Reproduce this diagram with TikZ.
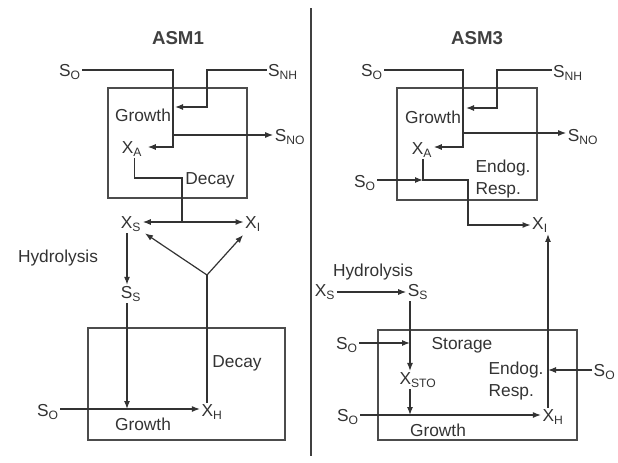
\documentclass[tikz,border=0pt]{standalone}
\usepackage{fontspec}
\setmainfont{Liberation Sans}
\usetikzlibrary{arrows.meta}

\begin{document}
\begin{tikzpicture}[x=0.75pt,y=-0.75pt,
	flow/.style={draw=black!80, line width=0.9pt},
	arr/.style={flow, -{Latex[length=6pt,width=4.5pt]}},
	dblarr/.style={flow, {Latex[length=6pt,width=4.5pt]}-{Latex[length=6pt,width=4.5pt]}},
	reactor/.style={draw=black!70, line width=1.3pt},
	lbl/.style={font=\fontsize{13}{16}\selectfont, text=black!80, inner sep=1pt},
	proc/.style={lbl},
	title/.style={font=\fontsize{14}{16}\selectfont\bfseries, text=black!75},
	]
	\useasboundingbox (0,0) rectangle (618,462);
	
	% ASM1
	\node[title] (asm1) at (178,38) {ASM1};
	\draw[reactor] (108,88) rectangle (247,198);
	\draw[reactor] (88,328) rectangle (285,440);
	
	\node[lbl] (SO1) at (70,72) {S\textsubscript{O}};
	\node[lbl] (SNH1) at (283,72) {S\textsubscript{NH}};
	\node[lbl] (SNO1) at (290,137) {S\textsubscript{NO}};
	\node[lbl] (XA1) at (132,149) {X\textsubscript{A}};
	\node[lbl] (XS1) at (131,224) {X\textsubscript{S}};
	\node[lbl] (XI1) at (253,224) {X\textsubscript{I}};
	\node[lbl] (SS1) at (131,294) {S\textsubscript{S}};
	\node[lbl] (SO2) at (48,412) {S\textsubscript{O}};
	\node[lbl] (XH1) at (212,412) {X\textsubscript{H}};
	
	\node[proc] (grow1) at (143,115) {Growth};
	\node[proc] (decay1) at (210,180) {Decay};
	\node[proc] (hydro1) at (58,258) {Hydrolysis};
	\node[proc] (decay2) at (237,363) {Decay};
	\node[proc] (grow2) at (143,424) {Growth};
	
	\coordinate (a1) at (173,70);
	\coordinate (a2) at (173,147);
	\draw[arr] (SO1.east |- a1) -- (a1) -- (a2) -- ([xshift=3pt]XA1.east |- a2);
	\coordinate (b1) at (207,70);
	\coordinate (b2) at (207,107);
	\coordinate (b3) at (175,107);
	\draw[arr] (SNH1.west |- b1) -- (b1) -- (b2) -- (b3);
	\coordinate (n1) at (173,135);
	\draw[arr] (n1) -- (SNO1.west |- n1);
	
	\coordinate (d1) at (182,178);
	\coordinate (d2) at (182,222);
	\draw[flow] ([xshift=2pt]XA1.south) |- (d1) -- (d2);
	\draw[dblarr] (XS1.east |- d2) -- (XI1.west |- d2);
	
	\draw[arr] ([xshift=-3pt]XS1.south) -- ([xshift=-3pt]SS1.north);
	\coordinate (v1) at (207,275);
	\draw[arr, shorten >=2pt] (v1) -- (XS1);
	\draw[arr, shorten >=2pt] (v1) -- (XI1);
	\draw[flow] (XH1.north -| v1) -- (v1);
	
	\coordinate (g1) at (127,409);
	\draw[arr] ([xshift=-3pt]SS1.south) -- (g1);
	\draw[arr] (SO2.east |- g1) -- (XH1.west |- g1);
	
	% divider
	\draw[line width=1.5pt, black!75] (311,8) -- (311,456);
	
	% ASM3
	\node[title] (asm3) at (477,38) {ASM3};
	\draw[reactor] (397,88) rectangle (537,200);
	\draw[reactor] (378,330) rectangle (577,440);
	
	\node[lbl] (SO3) at (372,72) {S\textsubscript{O}};
	\node[lbl] (SNH3) at (568,73) {S\textsubscript{NH}};
	\node[lbl] (SNO3) at (583,137) {S\textsubscript{NO}};
	\node[lbl] (XA3) at (422,150) {X\textsubscript{A}};
	\node[lbl] (SO4) at (365,183) {S\textsubscript{O}};
	\node[lbl] (XI3) at (540,225) {X\textsubscript{I}};
	\node[lbl] (XS3) at (325,292) {X\textsubscript{S}};
	\node[lbl] (SS3) at (418,292) {S\textsubscript{S}};
	\node[lbl] (SO5) at (347,345) {S\textsubscript{O}};
	\node[lbl] (XSTO) at (418,380) {X\textsubscript{STO}};
	\node[lbl] (SO6) at (348,417) {S\textsubscript{O}};
	\node[lbl] (XH3) at (553,417) {X\textsubscript{H}};
	\node[lbl, anchor=east] (SO7) at (617,372) {S\textsubscript{O}};
	
	\node[proc] (grow3) at (433,117) {Growth};
	\node[proc, anchor=west, align=left] (endog1) at (474,179) {Endog.\\Resp.};
	\node[proc] (hydro3) at (373,272) {Hydrolysis};
	\node[proc] (stor) at (462,345) {Storage};
	\node[proc, anchor=west, align=left] (endog2) at (487,381) {Endog.\\Resp.};
	\node[proc] (grow4) at (438,430) {Growth};
	
	\coordinate (e1) at (463,70);
	\coordinate (e2) at (463,147);
	\draw[arr] (SO3.east |- e1) -- (e1) -- (e2) -- (XA3.east |- e2);
	\coordinate (f1) at (497,70);
	\coordinate (f2) at (497,108);
	\coordinate (f3) at (466,108);
	\draw[arr] (SNH3.west |- f1) -- (f1) -- (f2) -- (f3);
	\coordinate (m1) at (463,133);
	\draw[arr] (m1) -- (SNO3.west |- m1);
	
	\coordinate (r1) at (423,180);
	\coordinate (r2) at (468,180);
	\draw[arr] (SO4.east |- r1) -- (r1);
	\draw[arr] (XA3.south -| r1) -- (r1) -- (r2) |- (XI3.west);
	
	\draw[arr] (XS3.east) -- (SS3.west);
	\coordinate (s1) at (410,343);
	\draw[arr] (SS3.south -| s1) -- (XSTO.north -| s1);
	\draw[arr] (SO5.east |- s1) -- (s1);
	\coordinate (t1) at (410,415);
	\draw[arr] (XSTO.south -| t1) -- (t1);
	\draw[arr] (SO6.east |- t1) -- (XH3.west |- t1);
	\coordinate (u1) at (548,370);
	\draw[arr] (XH3.north -| u1) -- (XI3.south -| u1);
	\draw[arr] (SO7.west |- u1) -- (u1);
\end{tikzpicture}
\end{document}
